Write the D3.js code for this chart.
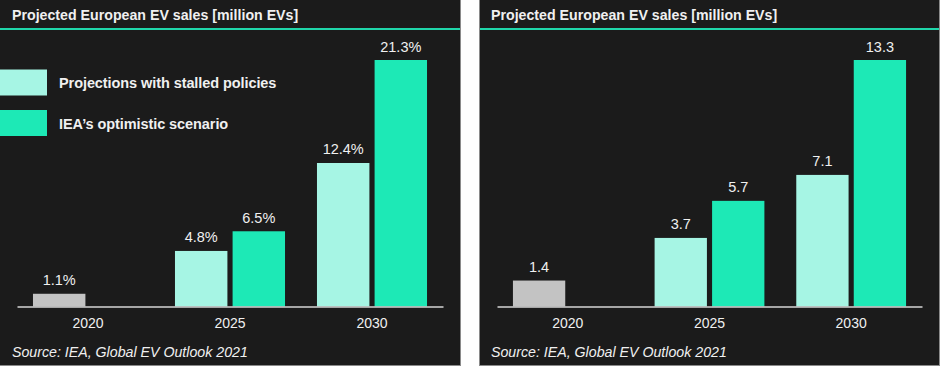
<!DOCTYPE html>
<html>
<head>
<meta charset="utf-8">
<script src="https://cdn.jsdelivr.net/npm/d3@7"></script>
<style>
  html, body { margin: 0; padding: 0; background: #ffffff; }
  svg { display: block; font-family: "Liberation Sans", Arial, sans-serif; }
</style>
</head>
<body>
<svg id="chart" width="941" height="369"></svg>
<script>
// ---------- data ----------
const years = ["2020", "2025", "2030"];
const seriesNames = ["Projections with stalled policies", "IEA\u2019s optimistic scenario"];

// Left panel: EV share of sales (%)
const shareActual = [1.1, null, null];
const shareStalled = [null, 4.8, 12.4];
const shareOptimistic = [null, 6.5, 21.3];

// Right panel: EV sales (million EVs)
const salesActual = [1.4, null, null];
const salesStalled = [null, 3.7, 7.1];
const salesOptimistic = [null, 5.7, 13.3];

const titleText = "Projected European EV sales [million EVs]";
const sourceText = "Source: IEA, Global EV Outlook 2021";

// ---------- style ----------
const colBg = "#1b1b1b";
const colActual = "#c3c3c3";
const colStalled = "#a6f5e4";
const colOptimistic = "#1de9b6";
const colRule = "#1fd6aa";
const colText = "#f0f0f0";

const svg = d3.select("#chart");

function drawPanel(opts) {
  const g = svg.append("g").attr("transform", `translate(${opts.x0},0)`);
  const W = opts.width, H = 366;

  const clipId = "clip" + opts.id;
  svg.append("clipPath").attr("id", clipId)
    .append("rect").attr("x", 0).attr("y", 0).attr("width", W).attr("height", H);
  const inner = g.append("g").attr("clip-path", `url(#${clipId})`);

  inner.append("rect").attr("x", 0).attr("y", 0).attr("width", W).attr("height", H).attr("fill", colBg);
  g.append("rect").attr("x", opts.borderLeft ? 0.5 : -2).attr("y", -2)
    .attr("width", opts.borderLeft ? W - 1 : W + 1.5).attr("height", H + 1.5)
    .attr("fill", "none").attr("stroke", "#8a8a8a").attr("stroke-width", 1);

  // title
  inner.append("text").attr("x", 12).attr("y", 20)
    .attr("fill", colText).attr("font-weight", "bold").attr("font-size", 14.2)
    .text(titleText);
  inner.append("line").attr("x1", 0).attr("x2", W).attr("y1", 29).attr("y2", 29)
    .attr("stroke", colRule).attr("stroke-width", 2);

  // scales
  const x = d3.scaleBand().domain(years).range([opts.axisL, opts.axisR])
    .paddingInner(0.225).paddingOuter(0.1125);
  const xs = d3.scaleBand().domain([0, 1]).range([0, x.bandwidth()]).paddingInner(0.09);
  const y = d3.scaleLinear().domain([0, d3.max(opts.optimistic)]).range([306.5, 60]);

  const bars = [];
  years.forEach((yr, i) => {
    if (opts.actual[i] != null) bars.push({ yr, v: opts.actual[i], slot: 0, c: colActual });
    if (opts.stalled[i] != null) bars.push({ yr, v: opts.stalled[i], slot: 0, c: colStalled });
    if (opts.optimistic[i] != null) bars.push({ yr, v: opts.optimistic[i], slot: 1, c: colOptimistic });
  });

  inner.selectAll("rect.bar").data(bars).join("rect").attr("class", "bar")
    .attr("x", d => x(d.yr) + xs(d.slot))
    .attr("width", xs.bandwidth())
    .attr("y", d => y(d.v))
    .attr("height", d => y(0) - y(d.v))
    .attr("fill", d => d.c);

  inner.selectAll("text.val").data(bars).join("text").attr("class", "val")
    .attr("x", d => x(d.yr) + xs(d.slot) + xs.bandwidth() / 2)
    .attr("y", d => y(d.v) - 8.5)
    .attr("text-anchor", "middle").attr("fill", colText).attr("font-size", 14.5)
    .text(d => opts.fmt(d.v));

  // x axis
  const axis = inner.append("g").attr("transform", `translate(0,${y(0)})`)
    .call(d3.axisBottom(x).tickSize(0).tickPadding(12));
  axis.select(".domain").attr("stroke", "#d6d6d6").attr("stroke-width", 1.5);
  axis.selectAll("text").attr("fill", colText).attr("font-size", 14)
    .attr("font-family", "Liberation Sans, Arial, sans-serif");

  // source
  inner.append("text").attr("x", 12).attr("y", 356.5)
    .attr("fill", colText).attr("font-style", "italic").attr("font-size", 14.2)
    .text(sourceText);

  // legend
  if (opts.legend) {
    const leg = inner.append("g");
    const items = [{ name: seriesNames[0], c: colStalled, y: 69.5 }, { name: seriesNames[1], c: colOptimistic, y: 110 }];
    items.forEach(it => {
      leg.append("rect").attr("x", -5).attr("y", it.y).attr("width", 52).attr("height", 26).attr("fill", it.c);
      leg.append("text").attr("x", 59).attr("y", it.y + 18.5)
        .attr("fill", colText).attr("font-weight", "bold").attr("font-size", 14.5)
        .attr("letter-spacing", -0.08)
        .text(it.name);
    });
  }
}

drawPanel({ id: "L", x0: 0, width: 461, axisL: 17, axisR: 443, borderLeft: false,
  actual: shareActual, stalled: shareStalled, optimistic: shareOptimistic,
  fmt: v => v.toFixed(1) + "%", legend: true });

drawPanel({ id: "R", x0: 479, width: 461, axisL: 18, axisR: 443, borderLeft: true,
  actual: salesActual, stalled: salesStalled, optimistic: salesOptimistic,
  fmt: v => v.toFixed(1), legend: false });
</script>
</body>
</html>
